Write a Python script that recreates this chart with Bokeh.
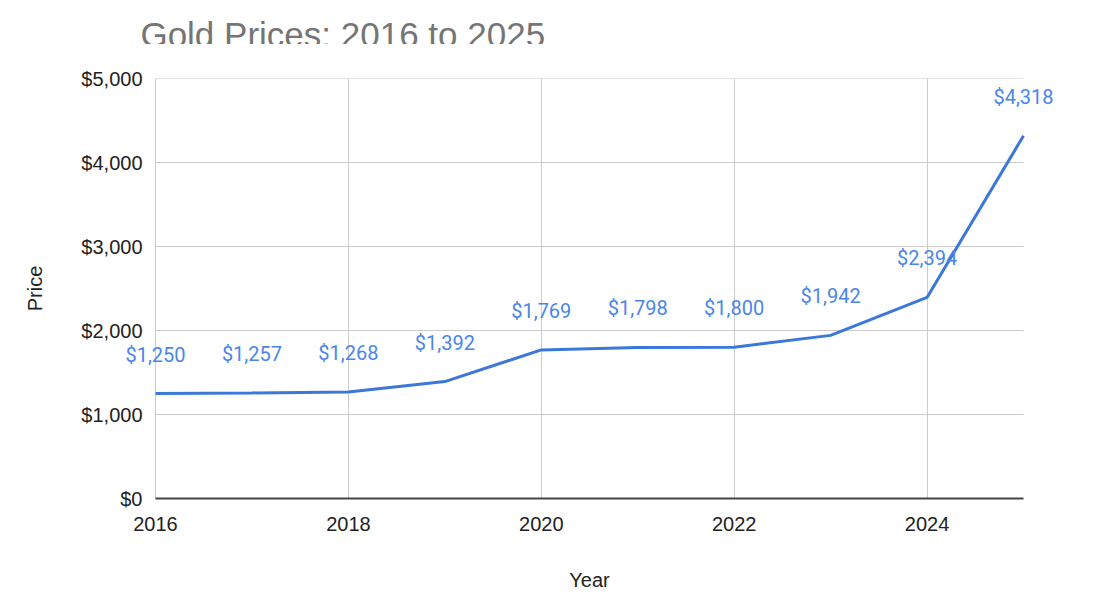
from bokeh.plotting import figure
from bokeh.models import Range1d, FixedTicker, NumeralTickFormatter, Label
from bokeh.layouts import column
from bokeh.core.properties import value
from bokeh.embed import file_html
from bokeh.resources import INLINE

years = [2016, 2017, 2018, 2019, 2020, 2021, 2022, 2023, 2024, 2025]
prices = [1250, 1257, 1268, 1392, 1769, 1798, 1800, 1942, 2394, 4318]
price_labels = ["$" + format(v, ",") for v in prices]
x_ticks = [2016, 2018, 2020, 2022, 2024]
y_ticks = [0, 1000, 2000, 3000, 4000, 5000]
title_text = "Gold Prices: 2016 to 2025"

W = 1079
TITLE_H = 44

# ---- title strip (its own small svg figure, pixel coordinates) ----
t = figure(width=W, height=TITLE_H, output_backend="svg", toolbar_location=None,
           x_range=Range1d(0, W), y_range=Range1d(0, TITLE_H),
           x_axis_type=None, y_axis_type=None, min_border=0)
t.outline_line_color = None
t.grid.visible = False
t.text(x=[24], y=[TITLE_H - 34], text=[title_text], text_font=value("Liberation Sans"),
       text_font_size=value("35px"), text_color="#757575",
       text_baseline="alphabetic", text_align="left")

# ---- main chart ----
x0, x1 = years[0], years[-1]
px_per_year = 868 / (x1 - x0)
pad = 36  # extra room so the end point labels are not clipped

p = figure(width=W, height=593 - TITLE_H, output_backend="svg", toolbar_location=None,
           title=None,
           x_range=Range1d(x0 - pad / px_per_year, x1 + pad / px_per_year),
           y_range=Range1d(0, 5000))
p.min_border_left = 155 - pad
p.min_border_right = W - 1023 - pad
p.min_border_top = 78 - TITLE_H
p.min_border_bottom = 93
p.outline_line_color = None

# horizontal grid lines limited to the data span
p.segment(x0=[x0] * len(y_ticks), x1=[x1] * len(y_ticks), y0=y_ticks, y1=y_ticks,
          line_color="#cccccc", line_width=1)

p.line(years, prices, line_color="#3c78d8", line_width=3)

for xv, yv, lbl in zip(years, prices, price_labels):
    p.add_layout(Label(x=xv, y=yv, text=lbl, text_align="center", text_baseline="middle",
                       y_offset=39, text_font="Roboto", text_font_size="20px",
                       text_color="#4a86e8"))

p.xaxis.ticker = FixedTicker(ticks=x_ticks)
p.yaxis.ticker = FixedTicker(ticks=y_ticks)
p.yaxis.formatter = NumeralTickFormatter(format="$0,0")
p.xaxis.bounds = (x0, x1)

for ax in [p.xaxis[0], p.yaxis[0]]:
    ax.major_tick_line_color = None
    ax.minor_tick_line_color = None
    ax.major_label_text_font = "Liberation Sans"
    ax.major_label_text_font_size = "20px"
    ax.major_label_text_color = "#222222"
    ax.axis_label_text_font = "Liberation Sans"
    ax.axis_label_text_font_size = "20px"
    ax.axis_label_text_font_style = "normal"
    ax.axis_label_text_color = "#222222"

p.xaxis.axis_label = "Year"
p.yaxis.axis_label = "Price"
p.yaxis.axis_line_color = None
p.xaxis.axis_line_color = "#444444"
p.xaxis.axis_line_width = 2
p.xaxis.major_label_standoff = 12
p.yaxis.major_label_standoff = 7 - pad
p.xaxis.axis_label_standoff = 35
p.yaxis.axis_label_standoff = 32

p.xgrid.ticker = FixedTicker(ticks=x_ticks)
p.xgrid.grid_line_color = "#cccccc"
p.ygrid.visible = False

layout = column(t, p, spacing=0)
open("out.html", "w").write(file_html(layout, INLINE))
